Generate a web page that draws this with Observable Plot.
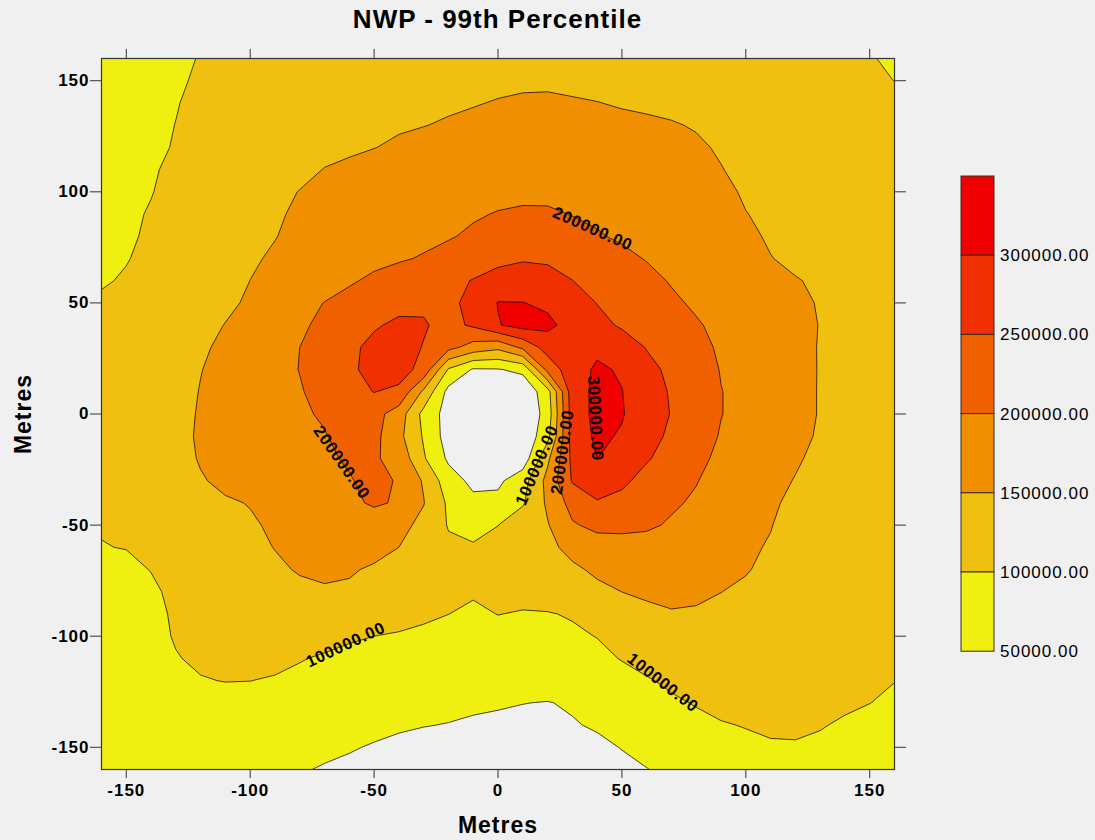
<!DOCTYPE html>
<html>
<head>
<meta charset="utf-8">
<script src="https://cdn.jsdelivr.net/npm/d3@7"></script>
<script src="https://cdn.jsdelivr.net/npm/@observablehq/plot@0.6"></script>
<style>
  html, body { margin: 0; padding: 0; background: #f0f0f0; }
  #wrap { position: relative; width: 1095px; height: 840px; overflow: hidden;
          font-family: "Liberation Sans", Arial, sans-serif; }
  #title { position: absolute; left: 0; top: 6px; width: 995px; text-align: center;
           font-weight: bold; font-size: 26px; line-height: 26px; letter-spacing: 1px; color: #000; }
  #chart { position: absolute; left: 0; top: 0; }
  #legend { position: absolute; left: 940px; top: 160px; }
  g[aria-label="x-axis label"] text, g[aria-label="y-axis label"] text { font-size: 23px; letter-spacing: 1px; }
  g[aria-label="x-axis tick label"] text, g[aria-label="y-axis tick label"] text { letter-spacing: 1px; }
  g[aria-label="text"] text { letter-spacing: 0.8px; }
</style>
</head>
<body>
<div id="wrap">
  <div id="title">NWP - 99th Percentile</div>
</div>
<script>
// ---- data -------------------------------------------------------------
const titleText = "NWP - 99th Percentile";
const axisLabel = "Metres";
const xTicks = [-150, -100, -50, 0, 50, 100, 150];
const yTicks = [-150, -100, -50, 0, 50, 100, 150];
const thresholds = [50000, 100000, 150000, 200000, 250000, 300000];
const colors = ["#f0f010", "#f0c010", "#f09000", "#f06000", "#f03000", "#f00000"];
const legendLabels = ["50000.00", "100000.00", "150000.00", "200000.00", "250000.00", "300000.00"];

// grid sample positions (metres)
const xs = [-160,-150,-140,-130,-120,-110,-100,-90,-80,-70,-60,-50,-40,-30,-20,-10,0,10,20,30,40,50,60,70,80,90,100,110,120,130,140,150,160];
const ys = [160,150,140,130,120,110,100,90,80,70,60,50,40,30,20,10,0,-10,-20,-30,-40,-50,-60,-70,-80,-90,-100,-110,-120,-130,-140,-150,-160];

// 99th percentile values, in thousands; one row per y (top to bottom), one column per x
const gridRows = [
  [70,78,86,96,101,106,110,113,117,120,124,127,130,133,136,138,140,141,140,139,136,134,132,129,125,122,118,115,111,107,104,102,95],
  [75,83,90,97,103,108,112,116,120,124,128,132,135,138,141,144,146,147,147,145,143,141,139,136,132,128,124,120,116,112,108,104,99.8],
  [80,87,93,99,105,111,116,121,126,130,134,138,141,144,147,149,151,152.5,153,152,150.5,148,146,143,139,135,131,126,121,116,112,108,104],
  [84,90,95,100.3,106,112,118,124,130,135,140,144,147.5,149.5,152,154,156,157,158,158,157,155.5,154,152,148,143,138,132,126,121,116,112,108],
  [88,93,97,101,107,114,121,128,135,141,146,149.5,153.5,156.5,159,161.5,163.5,165,166,166,165.5,164,162,159,154,147,140,133,127,122,117,113,110],
  [91,95,98.5,103,109,117,125,133,141,151,155,159,163,166.5,170,173,175,177,178,178,177,175,172,168,162,151,143,136,129,124,119,115,112],
  [93,96,99.5,104,111,120,130,141,151,159,165,170,174,178,182,186,189,192,193,192,190,187,183,178,171,160,145,139,132,126,121,117,114],
  [95,97.5,101,106,114,124,135,146,155,163,170,176,181,186,191,196,202,205,204,199,194,189,184,178,171,162,151,142,135,129,124,120,117],
  [97,98.5,101.5,109,117,127,138,149,158,166,173,180,186,191,197,206,213,216,215,210,203,195,189,182,175,167,157,146,138,132,127,123,120],
  [98.5,99.5,102.5,111,120,131,146,154,163,172,181,189,196,203,213,228,240,246,243,234,222,209,198,188,180,171,161,151,143,136,131,127,124],
  [99,101,106,114,124,136,150.2,162,173,183,195,208,218,227,238,252,265,272,268,250.5,236,224,211,197,187,178,169,160,152,145,139,135,132],
  [101.5,104,110,120,131,143,155,170,186,201,214,226,236,243,246,255,302,301,291,268,249,234,221,207,194,185,176,167,158,147.5,141,137,135],
  [104,108,116,127,139,151,164,178,193,210,228,245,259,254,236,257,297,318,311,282,262,245,232,220,204,190,182,171,160,149,143,139,137],
  [106,111,120,132,145,157,171,186,200,218,240,262,268,248,215,180,162,210,272,287,292,272,248,231,211,195,186,174,162,148,143,140,138],
  [108,114,123,135,149,161,174,187,201,220,242,264,268,236,95,45,47,62,215,282,306,296,262,241,222,198,187,175,163,148,143,140,138],
  [109,115,124,136,151.5,164,176,188,197,214,236,251,241,140,35,15,10,10,80,280,310,301,270,246,225,201,188,175,162,148,143,140,138],
  [110,116,126,139,153,166,179,191,195,204,215,218,176,85,30,8,5,5,70,275,312,303,274,248,226,201,188,175,162,148,142,139,137],
  [109,115,125,138,155,168,180,189,194,198,213,214,163,95,28,8,6,8,85,272,308,296,266,242,220,197,185,172,160,146,140,137,135],
  [107,113,123,136,153,165,176,184,190,193,205,205,185,105,42,10,8,20,140,262,300.5,282,254,233,212,190,178,166,154,142,137,134,132],
  [105,111,120,133,147,158,168,177,184,190,197,213,196,145,72,38,40,80,165,254,276,259,235,216,202,183,171,160,148.5,138,133,130,128],
  [103,108,116,128,140,146,151.5,162,172,182,192,205,196,152,92,62,64,95,158,218,246,237,221,206,194,177,164,154,144,134,129,126,124],
  [101,105,112,123,133,140,146,155,165,174,181,180,165,137,97,90,99.5,128,147,195,212,211,207,195,182,169,158,151,140,130,126,123,121],
  [99.5,100.5,108,117,127,134,141,151,160,167,168,163,150,130,108,103,112,125,140,162,178,183,182,176,168,160,154,148,138,128,122,118,116],
  [95,96,100.5,108,117,126,134,144,153,157,154,145,136,123,110,104,111,118,128,143,157,165,168,167,163,157,152,143,133,122,117,114,112],
  [92,94,97,104,111,119,127,135,142,146,144,137,127,116,108,103,106,109,117,128,141,150.2,155,157,155,150.3,145,136,126,116,112,110,109],
  [89,91,96,102,108,114,120,126,132,134,131,124,116,106,100.2,95,100.5,98,98,103,116,134,143,148,147,143,137,129,121,114,110,108,107],
  [85,89,94,101.5,105,109,112,114,113,109,104,100,96,93,91,90,91,92,91,94,101,113,124,132,135,133,128,122,116,111,107,105,104],
  [81,85,90,99,103,105.5,106.5,106,101.5,97,92,88,84,81,79,78,77,77,77,80,90,102,112,120,124,124,121,116,111,107,104,102.5,102],
  [77,81,86,94,99,100.5,100.2,98,94,89,84,79,75,71,68,66,65,65,64,66,74,86,97,106,112,114,114,111,107,104,102,100.8,100.3],
  [73,77,82,88,92,93,92,89,85,80,75,70,66,62,58,55,53,50.5,49,53,62,74,85,95,102,106,108,108,107,105,102.5,100.2,97],
  [69,72,76,80,83,84,83,80,76,71,66,60,54,51,49,46,44,43,44,48,53,63,74,84,92,98.5,101,103,103,101,98,95,92],
  [65,67,70,73,75,75,73,69,64,58,53,47,43,40,38,36,35,34,35,38,44,51,61,72,82,90,95,98,98.5,97,93,89,86],
  [61,63,65,67,68,67,64,59,53,47,42,38,34,31,29,28,27,27,28,31,36,43,49,58,67,75,82,86,88,87,84,81,78]
];

// contour line labels (text, position in metres, angle in degrees)
const labelText  = ["200000.00", "200000.00", "100000.00", "100000.00", "300000.00", "100000.00", "200000.00"];
const labelX     = [38.2, -63.1, -61.5, 66.5, 39.3, 15.7, 26.0];
const labelY     = [83.3, -21.8, -103.9, -121.0, -2.0, -23.1, -17.1];
const labelAngle = [24, 55, -25, 38, 87, -67, -82];

// ---- chart ------------------------------------------------------------
document.getElementById("title").textContent = titleText;
const values = gridRows.flat().map(v => v * 1000);
const step = xs[1] - xs[0];
const fmt = d => String(d);

const chart = Plot.plot({
  width: 1095,
  height: 840,
  marginLeft: 101,
  marginRight: 201,
  marginTop: 58,
  marginBottom: 71,
  x: {domain: [-160, 160]},
  y: {domain: [-160, 160]},
  color: {type: "ordinal", domain: thresholds, range: colors},
  style: {background: "transparent", fontFamily: "'Liberation Sans', Arial, sans-serif", overflow: "visible", color: "#000"},
  marks: [
    Plot.contour(values, {
      width: xs.length, height: ys.length,
      x1: xs[0] - step / 2, x2: xs[xs.length - 1] + step / 2,
      y1: ys[0] + step / 2, y2: ys[ys.length - 1] - step / 2,
      fill: Plot.identity, thresholds,
      stroke: "#000", strokeWidth: 0.9, strokeOpacity: 0.8,
      clip: true
    }),
    Plot.text(labelText, {x: labelX, y: labelY, rotate: labelAngle, text: Plot.identity,
      fontSize: 16.5, fontWeight: "bold", fill: "#000", textAnchor: "middle", lineAnchor: "middle", clip: true}),
    Plot.frame({stroke: "#333", strokeWidth: 1.2}),
    Plot.axisX(xTicks, {anchor: "bottom", tickSize: 9, tickPadding: 5, tickFormat: fmt,
      fontSize: 17, fontWeight: "bold", stroke: "#333", fill: "#000",
      label: axisLabel, labelAnchor: "center", labelOffset: 63, labelArrow: "none"}),
    Plot.axisX(xTicks, {anchor: "top", tickSize: 10, tickFormat: () => "", stroke: "#333", label: null}),
    Plot.axisY(yTicks, {anchor: "left", tickSize: 11, tickPadding: 1, tickFormat: fmt,
      fontSize: 17, fontWeight: "bold", stroke: "#333", fill: "#000",
      label: axisLabel, labelAnchor: "center", labelOffset: 87, labelArrow: "none"}),
    Plot.axisY(yTicks, {anchor: "right", tickSize: 11, tickFormat: () => "", stroke: "#333", label: null})
  ]
});
chart.id = "chart";
document.getElementById("wrap").appendChild(chart);

// ---- legend (colour bar) ---------------------------------------------
const boxW = 33, boxH = 79.2, bx = 21, by = 16;
const lg = d3.select("#wrap").append("svg").attr("id", "legend")
  .attr("width", 155).attr("height", 520)
  .style("font-family", "'Liberation Sans', Arial, sans-serif");
const order = d3.range(thresholds.length).reverse(); // top box = highest band
lg.selectAll("rect").data(order).join("rect")
  .attr("x", bx).attr("y", (d, i) => by + i * boxH)
  .attr("width", boxW).attr("height", boxH)
  .attr("fill", d => colors[d]).attr("stroke", "#3a2a20").attr("stroke-width", 1);
lg.selectAll("text").data(order).join("text")
  .attr("x", bx + boxW + 6).attr("y", (d, i) => by + (i + 1) * boxH)
  .attr("dy", "0.35em").attr("font-size", 17).attr("letter-spacing", "1px")
  .attr("fill", "#000").text(d => legendLabels[d]);
</script>
</body>
</html>
